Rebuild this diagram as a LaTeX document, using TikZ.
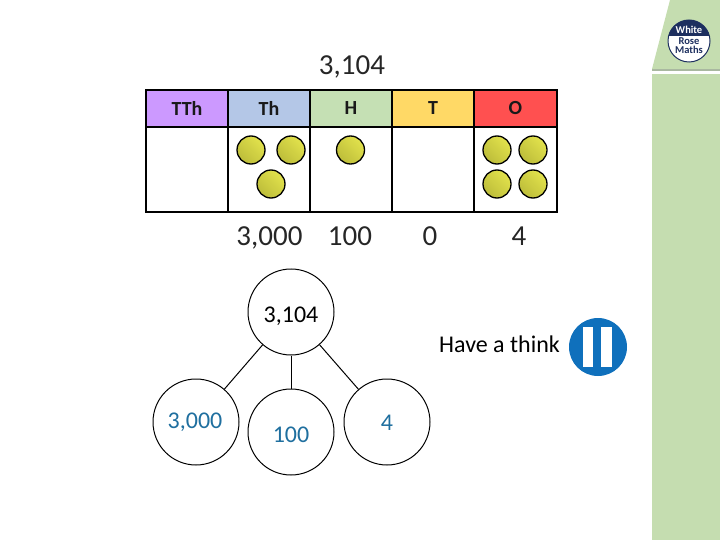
\documentclass[tikz,border=0pt]{standalone}
\usepackage{fontspec}
\setmainfont{Carlito}
\definecolor{panel}{HTML}{C5DDB0}
\definecolor{bandgrey}{HTML}{A9B8A0}
\definecolor{navy}{HTML}{1D2F5F}
\definecolor{tealblue}{HTML}{1F6F9F}
\definecolor{pauseblue}{HTML}{0F70BC}
\definecolor{hdpurple}{HTML}{CC99FF}
\definecolor{hdblue}{HTML}{B4C7E7}
\definecolor{hdgreen}{HTML}{C5E0B4}
\definecolor{hdyellow}{HTML}{FFD966}
\definecolor{hdred}{HTML}{FF5050}
\definecolor{ballmain}{HTML}{E2E24C}
\definecolor{balldark}{HTML}{BDBD3A}
\tikzset{
  cellbox/.style={draw=black,line width=1.6pt,minimum width=82pt,inner sep=0pt,anchor=north west,outer sep=0pt},
  headcell/.style={cellbox,minimum height=37pt,font=\fontsize{20}{20}\selectfont\bfseries,text=black!90},
  bodycell/.style={cellbox,minimum height=85pt},
  counter/.style={circle,draw=black,line width=1.3pt,minimum size=28pt,inner sep=0pt,
    left color=ballmain,middle color=ballmain,right color=balldark,shading angle=315},
  bond/.style={circle,draw=black,line width=1pt,minimum size=86pt,inner sep=0pt,fill=white},
  bondline/.style={draw=black,line width=1pt},
  bigtext/.style={font=\fontsize{29}{29}\selectfont,inner sep=0pt,text=black!85,anchor=base},
  bondtext/.style={font=\fontsize{24}{24}\selectfont,anchor=base},
  parttext/.style={bondtext,text=tealblue,inner sep=0pt},
  logotext/.style={font=\fontsize{10.5}{10.5}\selectfont\bfseries,inner sep=0pt,anchor=base}
}
\begin{document}
\begin{tikzpicture}[x=1pt,y=-1pt]
\useasboundingbox (0,0) rectangle (720,540);
% side panel
\fill[panel] (670,0) -- (720,0) -- (720,69) -- (652,69) -- cycle;
\fill[bandgrey] (652,69) rectangle (720,71.5);
\fill[panel] (652,74) rectangle (720,540);
% logo
\node[circle,fill=white,minimum size=42pt,inner sep=0pt] (logo) at (689,41) {};
\begin{scope}
\clip (689,41) circle[radius=21];
\fill[navy] (668,20) rectangle (710,36);
\end{scope}
\draw[navy,line width=1pt] (logo.center) circle[radius=21];
\node[logotext,text=white] (logow) at (689,34) {White};
\node[logotext,text=navy] (logor) at (689,44.5) {Rose};
\node[logotext,text=navy] (logom) at (689,54) {Maths};
% title
\node[bigtext] (title) at (352,75) {3,104};
% table
\node[headcell,fill=hdpurple] (hTTh) at (146,90) {TTh};
\node[headcell,fill=hdblue] (hTh) at (228,90) {Th};
\node[headcell,fill=hdgreen] (hH) at (310,90) {H};
\node[headcell,fill=hdyellow] (hT) at (392,90) {T};
\node[headcell,fill=hdred,minimum width=83pt] (hO) at (474,90) {O};
\node[bodycell] (bTTh) at (146,127) {};
\node[bodycell] (bTh) at (228,127) {};
\node[bodycell] (bH) at (310,127) {};
\node[bodycell] (bT) at (392,127) {};
\node[bodycell,minimum width=83pt] (bO) at (474,127) {};
% counters
\node[counter] (c1) at (251,150) {};
\node[counter] (c2) at (291,150) {};
\node[counter] (c3) at (271,184) {};
\node[counter] (c4) at (350.5,150) {};
\node[counter] (c5) at (497,150) {};
\node[counter] (c6) at (533,150) {};
\node[counter] (c7) at (497,184) {};
\node[counter] (c8) at (533,184) {};
% values
\node[bigtext] (v1) at (269.5,245) {3,000};
\node[bigtext] (v2) at (350,245) {100};
\node[bigtext] (v3) at (430,245) {0};
\node[bigtext] (v4) at (519,245) {4};
% part-whole
\node[bond] (whole) at (291,312) {};
\node[bond] (pa) at (196,422) {};
\node[bond] (pb) at (291,432) {};
\node[bond] (pc) at (387,422) {};
\draw[bondline] (whole) -- (pa);
\draw[bondline] (whole) -- (pb);
\draw[bondline] (whole) -- (pc);
\node[bondtext,inner sep=0pt] (twhole) at (291,322) {3,104};
\node[parttext] (ta) at (195,428) {3,000};
\node[parttext] (tb) at (291,442) {100};
\node[parttext] (tc) at (387,430) {4};
% think
\node[bondtext,inner sep=0pt] (think) at (499.5,352) {Have a think};
\node[circle,fill=pauseblue,minimum size=58pt,inner sep=0pt] (pause) at (598,347) {};
\fill[white] (583,327) rectangle (593,367);
\fill[white] (601,327) rectangle (612,367);
\end{tikzpicture}
\end{document}
